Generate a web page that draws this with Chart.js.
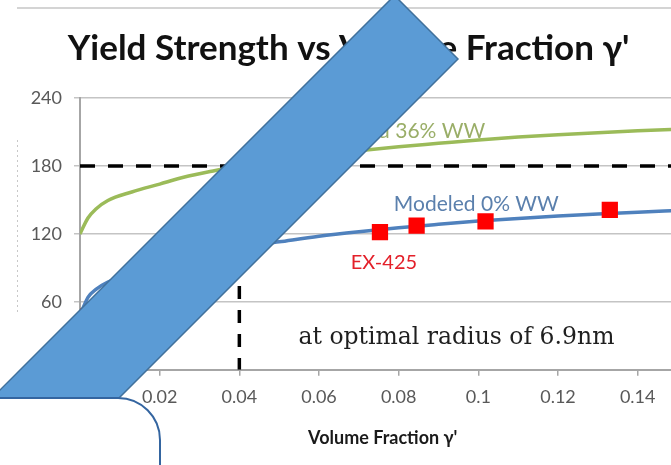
<!DOCTYPE html>
<html>
<head>
<meta charset="utf-8">
<script src="https://cdn.jsdelivr.net/npm/chart.js@4.4.1/dist/chart.umd.min.js"></script>
<style>
  html, body { margin: 0; padding: 0; background: #ffffff; overflow: hidden; }
  #wrap { width: 697px; height: 465px; }
</style>
</head>
<body>
<div id="wrap"><canvas id="chart" width="697" height="465"></canvas></div>
<script>
// Volume fraction of gamma-prime (x) and yield strength (y)
const volumeFraction = [0, 0.002, 0.004, 0.007, 0.013, 0.02, 0.026, 0.034, 0.04, 0.05, 0.06, 0.07, 0.08, 0.09, 0.1, 0.11, 0.12, 0.13, 0.14, 0.15, 0.16];
const modeled36WW   = [120, 134, 142, 149.5, 157, 164, 170, 176, 180, 185, 189.5, 193.5, 197, 200, 203, 205.5, 207.5, 209.3, 211, 212.5, 214];
const modeled0WW    = [48, 64, 71, 77.5, 85, 92, 98, 104, 108, 113, 118, 122, 125.5, 128.5, 131.3, 133.7, 135.8, 137.6, 139.2, 140.6, 142];

// Measured EX-425 alloy points
const ex425Fraction = [0, 0.0753, 0.0845, 0.1018, 0.133];
const ex425Strength = [47, 121.5, 127.4, 131, 141.3];

// Target strength and the fraction needed to reach it
const targetStrength = 180;
const optimalFraction = 0.04;

// Axis ranges and tick steps
const xTickStep = 0.02;
const yTicks = [0, 60, 120, 180, 240];

const toPoints = (xs, ys) => xs.map((x, i) => ({ x: x, y: ys[i] }));

const labelPlugin = {
  id: 'curveLabels',
  afterDatasetsDraw(chart) {
    const { ctx, scales: { x, y } } = chart;
    ctx.save();
    ctx.textAlign = 'center';
    ctx.textBaseline = 'middle';
    ctx.font = '21px Lato';
    ctx.fillStyle = '#9AAE68';
    ctx.fillText('Modeled 36% WW', x.getPixelForValue(0.0795), y.getPixelForValue(211));
    ctx.fillStyle = '#5B80AD';
    ctx.fillText('Modeled 0% WW', x.getPixelForValue(0.0995), y.getPixelForValue(146));
    ctx.font = '20px Lato';
    ctx.fillStyle = '#E3202A';
    ctx.fillText('EX-425', x.getPixelForValue(0.0763), y.getPixelForValue(95));
    ctx.font = '23.5px "DejaVu Serif"';
    ctx.fillStyle = '#1F1F1F';
    ctx.textBaseline = 'alphabetic';
    ctx.fillText('at optimal radius of 6.9nm', x.getPixelForValue(0.0945), y.getPixelForValue(23));
    ctx.restore();
  }
};

// Frame line, callout arrow and callout box drawn over the chart
const overlayPlugin = {
  id: 'overlay',
  afterDraw(chart) {
    const ctx = chart.ctx;
    ctx.save();
    ctx.strokeStyle = '#D4D4D4';
    ctx.lineWidth = 2;
    ctx.beginPath();
    ctx.moveTo(17, 8);
    ctx.lineTo(697, 8);
    ctx.stroke();

    ctx.strokeStyle = '#C8C8C8';
    ctx.lineWidth = 1;
    ctx.setLineDash([2, 3]);
    ctx.beginPath();
    ctx.moveTo(17.5, 140);
    ctx.lineTo(17.5, 312);
    ctx.stroke();
    ctx.setLineDash([]);

    // diagonal band
    ctx.beginPath();
    ctx.moveTo(394.5, -4.5);
    ctx.lineTo(458, 59);
    ctx.lineTo(-20, 537);
    ctx.lineTo(-84, 474);
    ctx.closePath();
    ctx.fillStyle = '#5B9BD5';
    ctx.fill();
    ctx.strokeStyle = '#41719C';
    ctx.lineWidth = 1.5;
    ctx.stroke();

    // rounded box
    const r = 42;
    ctx.beginPath();
    ctx.moveTo(-10, 398);
    ctx.lineTo(160 - r, 398);
    ctx.arcTo(160, 398, 160, 398 + r, r);
    ctx.lineTo(160, 480);
    ctx.lineTo(-10, 480);
    ctx.closePath();
    ctx.fillStyle = '#FFFFFF';
    ctx.fill();
    ctx.strokeStyle = '#3465A0';
    ctx.lineWidth = 2;
    ctx.stroke();
    ctx.restore();
  }
};

new Chart(document.getElementById('chart'), {
  type: 'scatter',
  data: {
    datasets: [
      {
        label: 'EX-425',
        data: toPoints(ex425Fraction, ex425Strength),
        pointStyle: 'rect',
        pointRadius: 11.5,
        backgroundColor: '#FF0000',
        borderColor: '#FF0000',
        borderWidth: 0,
        showLine: false,
        order: 0
      },
      {
        label: 'Modeled 36% WW',
        data: toPoints(volumeFraction, modeled36WW),
        showLine: true,
        borderColor: '#9BBB59',
        borderWidth: 3.5,
        pointRadius: 0,
        cubicInterpolationMode: 'monotone',
        order: 2
      },
      {
        label: 'Modeled 0% WW',
        data: toPoints(volumeFraction, modeled0WW),
        showLine: true,
        borderColor: '#4F81BD',
        borderWidth: 3.5,
        pointRadius: 0,
        cubicInterpolationMode: 'monotone',
        order: 2
      },
      {
        label: 'Target',
        data: [{ x: 0, y: targetStrength }, { x: 0.16, y: targetStrength }],
        showLine: true,
        borderColor: '#000000',
        borderWidth: 3.5,
        borderDash: [15, 13],
        pointRadius: 0,
        order: 1
      },
      {
        label: 'Optimal fraction',
        data: [{ x: optimalFraction, y: targetStrength }, { x: optimalFraction, y: 0 }],
        showLine: true,
        borderColor: '#000000',
        borderWidth: 3.5,
        borderDash: [13, 11],
        pointRadius: 0,
        order: 1
      }
    ]
  },
  options: {
    responsive: false,
    animation: false,
    layout: { padding: { top: 8, left: 0, right: 0, bottom: 12 } },
    plugins: {
      legend: { display: false },
      tooltip: { enabled: false },
      title: {
        display: true,
        text: "Yield Strength vs Volume Fraction \u03B3'",
        color: '#111111',
        font: { family: 'Lato', size: 35, weight: 'bold' },
        padding: { top: 20, bottom: 28 }
      }
    },
    scales: {
      x: {
        type: 'linear',
        min: 0,
        max: 0.152,
        ticks: {
          stepSize: xTickStep,
          includeBounds: false,
          color: '#595959',
          font: { family: 'Lato', size: 18 },
          padding: 11,
          callback: v => String(+v.toFixed(2))
        },
        grid: { drawOnChartArea: false, drawTicks: true, tickLength: 6, color: '#A6A6A6', lineWidth: 1.5 },
        border: { color: '#A6A6A6', width: 2 },
        title: {
          display: true,
          text: "Volume Fraction \u03B3'",
          color: '#1A1A1A',
          font: { family: 'Lato', size: 18, weight: 'bold' },
          padding: { top: 8, bottom: 4 }
        }
      },
      y: {
        min: yTicks[0],
        max: yTicks[yTicks.length - 1],
        afterBuildTicks(scale) { scale.ticks = yTicks.map(v => ({ value: v })); },
        afterFit(scale) { scale.width = 80; },
        ticks: {
          color: '#595959',
          font: { family: 'Lato', size: 18 },
          padding: 12
        },
        grid: { color: '#C4C4C4', lineWidth: 1.5, tickLength: 6 },
        border: { color: '#A6A6A6', width: 2 }
      }
    }
  },
  plugins: [labelPlugin, overlayPlugin]
});
</script>
</body>
</html>
